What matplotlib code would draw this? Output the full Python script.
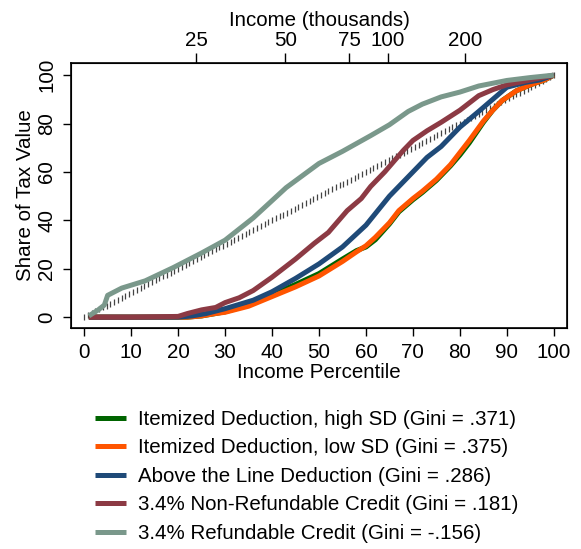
import numpy as np
import matplotlib
matplotlib.use("Agg")
import matplotlib.pyplot as plt

plt.rcParams['font.family'] = ['Liberation Sans', 'DejaVu Sans']

# ---- data ----
refund_p = [1, 3, 4.3, 5, 8, 13, 19, 25, 30, 36, 43, 50, 55, 61, 65, 69, 72, 76, 80, 84, 90, 95, 100]
refund_v = [0.5, 3, 5, 9, 12, 15, 20.5, 26.5, 31.8, 41, 53.5, 63.5, 68.5, 75, 79.5, 85, 88, 91, 93, 95.5, 97.8, 99, 100]

nonref_p = [1, 10, 20, 22, 25, 28, 30, 33, 36, 40, 42, 45, 49, 52, 56, 59, 61, 64, 68, 70, 73, 76, 80, 84, 87, 90, 95, 100]
nonref_v = [0, 0, 0.3, 1.5, 3, 4, 6, 8, 11, 16.5, 19.5, 24, 30.5, 35, 44, 49, 54, 60, 69, 73, 77, 80.5, 85.5, 91.5, 94, 96, 98, 100]

above_p = [1, 10, 20, 23, 26, 30, 36, 40, 45, 50, 55, 60, 65, 70, 73, 76, 80, 84, 87, 90, 94, 97, 100]
above_v = [0, 0, 0, 0.5, 1.5, 3.5, 7, 10.5, 16, 22, 29, 38, 50, 60, 66, 70.5, 78.5, 85, 90, 95, 97, 98, 100]

low_p = [1, 10, 22, 25, 28, 30, 35, 40, 45, 50, 55, 58, 60, 62, 65, 67, 70, 72, 75, 78, 80, 82, 85, 87, 89, 92, 95, 98, 100]
low_v = [0, 0, 0, 0.5, 1.5, 2, 4.5, 8.5, 12.5, 17, 23, 27, 29.5, 33, 39, 44, 49, 52, 57, 63, 68, 73, 81, 85.5, 89.5, 93.5, 96, 98, 100]

high_p = [1, 10, 22, 25, 28, 30, 35, 40, 45, 50, 55, 58, 60, 62, 65, 67, 70, 72, 75, 78, 80, 82, 85, 87, 89, 92, 95, 98, 100]
high_v = [0, 0, 0, 0.5, 1.5, 2.2, 5, 9.3, 13.5, 18, 24, 27.5, 29, 32, 38.5, 43.5, 48.5, 51.5, 56.5, 62.5, 67, 72, 80.5, 85.5, 89.5, 93.5, 96, 98, 100]

equality_p = np.arange(0, 100.01, 0.8)

income_ticks_pct = [23.8, 42.8, 56.4, 64.7, 81.1]
income_labels = ['25', '50', '75', '100', '200']

series = [
    (high_p, high_v, '#006400', 'Itemized Deduction, high SD (Gini = .371)'),
    (low_p, low_v, '#FF5500', 'Itemized Deduction, low SD (Gini = .375)'),
    (above_p, above_v, '#1F4A78', 'Above the Line Deduction (Gini = .286)'),
    (nonref_p, nonref_v, '#8C3A44', '3.4% Non-Refundable Credit (Gini = .181)'),
    (refund_p, refund_v, '#7A988B', '3.4% Refundable Credit (Gini = -.156)'),
]

FS = 14.8

fig = plt.figure(figsize=(5.81, 5.49), dpi=100)
ax = fig.add_axes([0.1222, 0.4025, 0.8537, 0.4827])

ax.plot(equality_p, equality_p, linestyle='none', marker='|', markersize=4.5,
        markeredgewidth=0.9, color='#444444', zorder=1)

for p, v, c, lab in series:
    ax.plot(p, v, color=c, lw=3.6, label=lab, solid_capstyle='butt', zorder=2)

ax.set_xlim(-2.8, 102.8)
ax.set_ylim(-4.5, 105)
ax.set_xticks(range(0, 101, 10))
ax.set_yticks(range(0, 101, 20))
ax.tick_params(axis='both', direction='out', length=6, width=1, labelsize=FS, pad=4.5)
for lbl in ax.get_yticklabels():
    lbl.set_rotation(90)
    lbl.set_va('center')
for s in ax.spines.values():
    s.set_linewidth(1.2)

ax.set_xlabel('Income Percentile', fontsize=FS, labelpad=1)
ax.set_ylabel('Share of Tax Value', fontsize=FS, labelpad=2)

top = ax.twiny()
top.set_xlim(ax.get_xlim())
top.set_xticks(income_ticks_pct)
top.set_xticklabels(income_labels)
top.tick_params(axis='x', direction='out', length=7.2, width=1, labelsize=FS, pad=2)
top.set_xlabel('Income (thousands)', fontsize=FS, labelpad=4)

handles, labels = ax.get_legend_handles_labels()
fig.legend(handles, labels, loc='upper left', bbox_to_anchor=(95 / 581, 1 - 410 / 549),
           frameon=False, fontsize=FS, borderpad=0, borderaxespad=0,
           handlelength=1.5, handletextpad=0.6, labelspacing=0.46)

fig.savefig('out.png', dpi=100)
